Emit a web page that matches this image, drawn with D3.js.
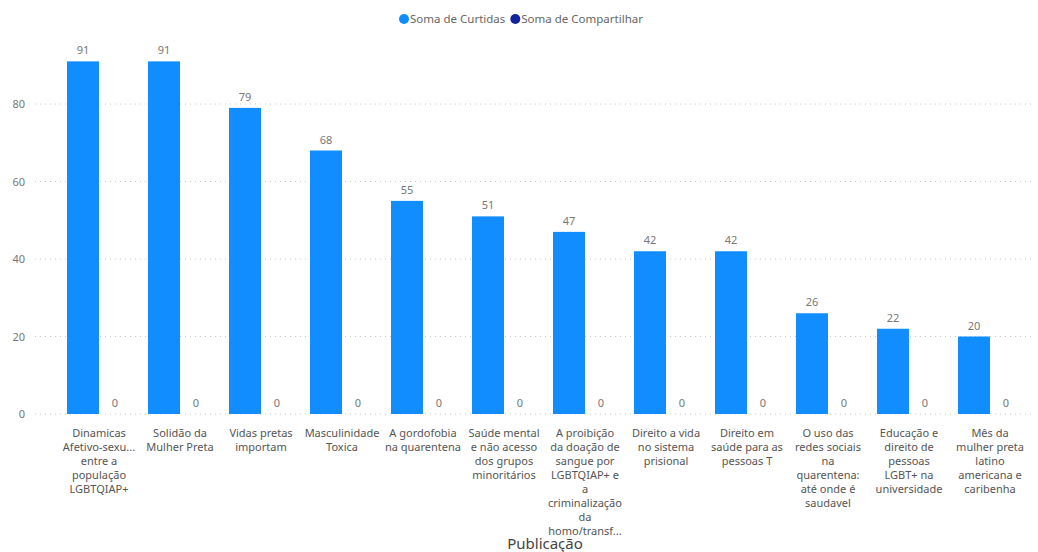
<!DOCTYPE html>
<html>
<head>
<meta charset="utf-8">
<script src="https://cdn.jsdelivr.net/npm/d3@7"></script>
<style>
  body { margin: 0; background: #fff; }
  svg { display: block; font-family: "Noto Sans", "Open Sans", sans-serif; }
</style>
</head>
<body>
<svg id="chart" width="1038" height="552"></svg>
<script>
// Axis labels, one entry per post, lines separated by "|"
const categories = [
  "Dinamicas|Afetivo-sexu...|entre a|população|LGBTQIAP+",
  "Solidão da|Mulher Preta",
  "Vidas pretas|importam",
  "Masculinidade|Toxica",
  "A gordofobia|na quarentena",
  "Saúde mental|e não acesso|dos grupos|minoritários",
  "A proibição|da doação de|sangue por|LGBTQIAP+ e|a|criminalização|da|homo/transf...",
  "Direito a vida|no sistema|prisional",
  "Direito em|saúde para as|pessoas T",
  "O uso das|redes sociais|na|quarentena:|até onde é|saudavel",
  "Educação e|direito de|pessoas|LGBT+ na|universidade",
  "Mês da|mulher preta|latino|americana e|caribenha"
];
const curtidas =      [91, 91, 79, 68, 55, 51, 47, 42, 42, 26, 22, 20];
const compartilhar =  [0, 0, 0, 0, 0, 0, 0, 0, 0, 0, 0, 0];
const seriesNames = ["Soma de Curtidas", "Soma de Compartilhar"];
const seriesColors = ["#118DFF", "#12239E"];
const yTicks = [0, 20, 40, 60, 80];

const svg = d3.select("#chart");
const plot = { left: 35, right: 1031, top: 40, bottom: 414 };

// one band per post, two bars side by side inside each band
const bandX = d3.scaleBand()
  .domain(d3.range(categories.length))
  .range([58.5, 1030.5])
  .paddingInner(17 / 81)
  .paddingOuter(8.5 / 81);
const inner = d3.scaleBand().domain([0, 1]).range([0, bandX.bandwidth()]);

const y = d3.scaleLinear().domain([0, 80]).range([plot.bottom, 104]);

// gridlines
svg.append("g")
  .selectAll("line")
  .data(yTicks)
  .join("line")
  .attr("x1", plot.left).attr("x2", plot.right)
  .attr("y1", d => y(d)).attr("y2", d => y(d))
  .attr("stroke", "#c8c8c8")
  .attr("stroke-width", 1)
  .attr("stroke-dasharray", "1,4");

// y axis labels
const yAxis = d3.axisLeft(y).tickValues(yTicks).tickSize(0).tickPadding(0);
const yg = svg.append("g").attr("transform", `translate(25,0)`).call(yAxis);
yg.select(".domain").remove();
yg.selectAll("text")
  .attr("fill", "#777")
  .style("font-size", "11px")
  .style("font-family", "'Noto Sans', sans-serif");

const series = [curtidas, compartilhar];

// bars
series.forEach((vals, s) => {
  svg.append("g")
    .selectAll("rect")
    .data(vals)
    .join("rect")
    .attr("x", (d, i) => bandX(i) + inner(s))
    .attr("width", inner.bandwidth())
    .attr("y", d => y(d))
    .attr("height", d => plot.bottom - y(d))
    .attr("fill", seriesColors[s]);

  // data labels
  svg.append("g")
    .selectAll("text")
    .data(vals)
    .join("text")
    .attr("x", (d, i) => bandX(i) + inner(s) + inner.bandwidth() / 2)
    .attr("y", d => y(d) - 7)
    .attr("text-anchor", "middle")
    .attr("fill", "#777")
    .style("font-size", "11px")
    .text(d => d);
});

// category labels
const catG = svg.append("g");
categories.forEach((c, i) => {
  const cx = bandX(i) + bandX.bandwidth() / 2;
  const t = catG.append("text")
    .attr("x", cx)
    .attr("y", 437)
    .attr("text-anchor", "middle")
    .attr("fill", "#555")
    .style("font-size", "11px");
  c.split("|").forEach((line, k) => {
    t.append("tspan")
      .attr("x", cx)
      .attr("dy", k === 0 ? 0 : 14)
      .text(line);
  });
});

// axis title
svg.append("text")
  .attr("x", 545).attr("y", 549)
  .attr("text-anchor", "middle")
  .attr("fill", "#444")
  .style("font-size", "15px")
  .text("Publicação");

// legend
const legend = svg.append("g").attr("transform", "translate(404,19)");
let lx = 0;
seriesNames.forEach((name, s) => {
  legend.append("circle").attr("cx", lx).attr("cy", 0).attr("r", 5).attr("fill", seriesColors[s]);
  const txt = legend.append("text")
    .attr("x", lx + 6).attr("y", 4)
    .attr("fill", "#666")
    .style("font-size", "11.5px")
    .text(name);
  lx += txt.node().getComputedTextLength() + 16;
});
</script>
</body>
</html>
